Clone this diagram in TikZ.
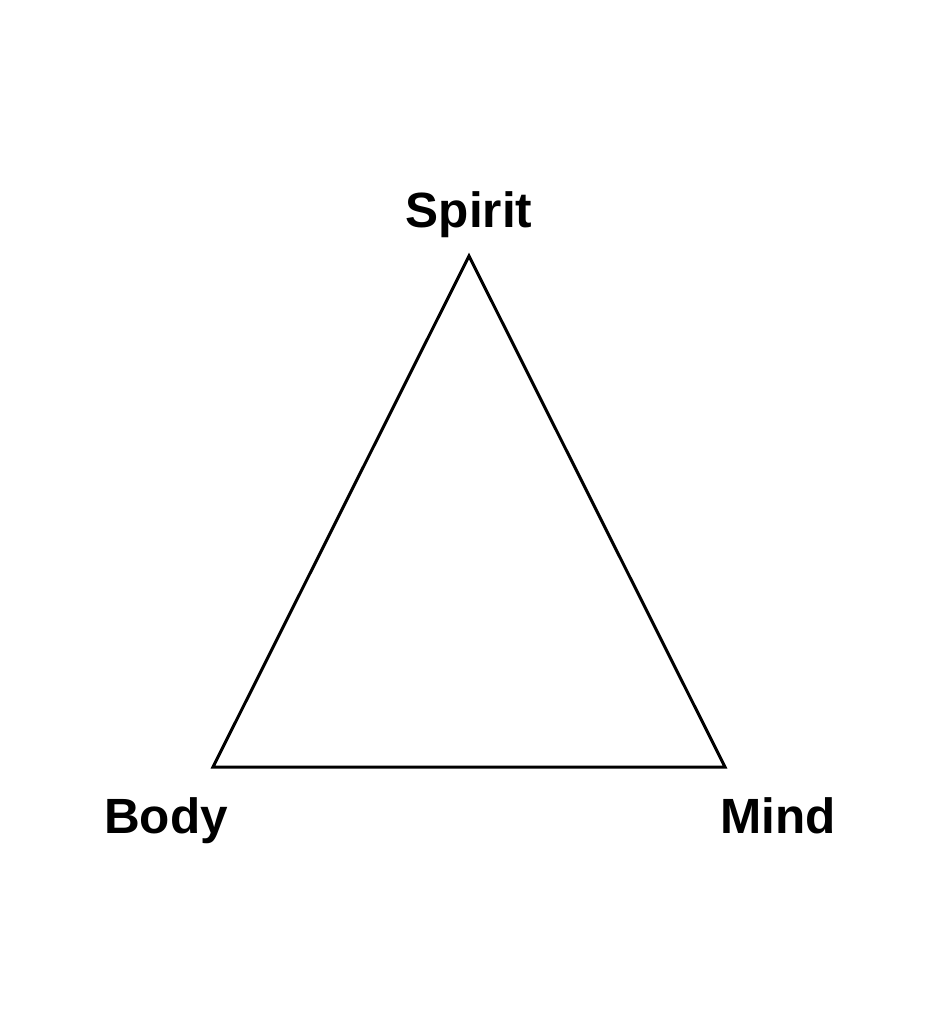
\documentclass[tikz,border=0pt]{standalone}
\usepackage{fontspec}
\setmainfont{Liberation Sans}
\begin{document}
\begin{tikzpicture}[x=1pt,y=-1pt,
  label/.style={font=\fontsize{49.5}{56}\selectfont\bfseries, anchor=base, inner sep=0pt},
  edge/.style={draw=black, line width=3pt, line join=miter}]
\useasboundingbox[fill=white] (0,0) rectangle (939,1024);
\coordinate (top) at (469,256);
\coordinate (bl) at (213,767);
\coordinate (br) at (725,767);
\draw[edge] (top) -- (bl) -- (br) -- cycle;
\node[label] (spirit) at (469,228) {Spirit};
\node[label] (body) at (166,833) {Body};
\node[label] (mind) at (778,833) {Mind};
\end{tikzpicture}
\end{document}
